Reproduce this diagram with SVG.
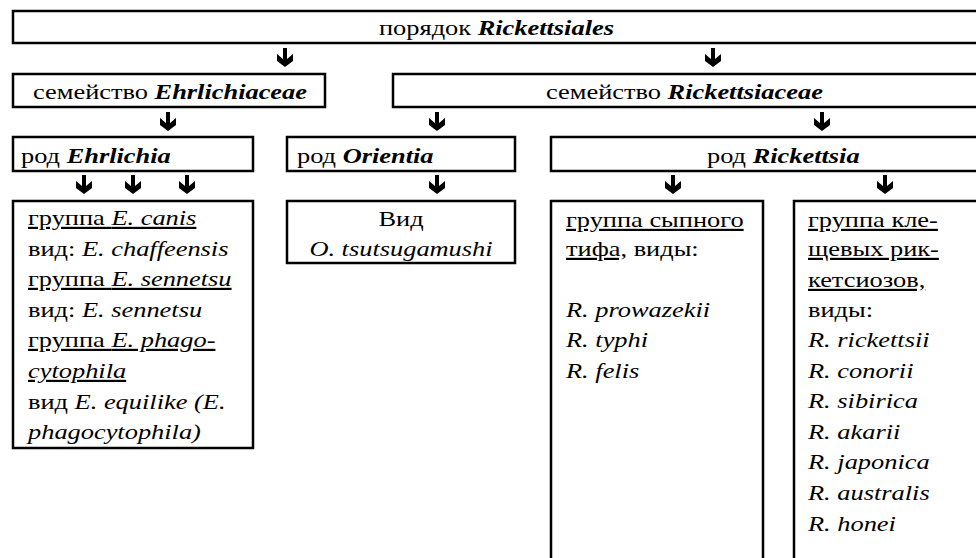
<svg xmlns="http://www.w3.org/2000/svg" xmlns:xlink="http://www.w3.org/1999/xlink" width="976" height="558" viewBox="0 0 976 558">
<defs>
<style>
.box{fill:#fff;stroke:#000;stroke-width:2.5}
.t text{font-size:22px;fill:#000}
.bi{font-weight:bold;font-style:italic}
.i{font-style:italic}
.u{text-decoration:underline}
</style>
<path id="arr" d="M-2,-19 H2 V-8 L8,-13 V-6 L0,0 L-8,-6 V-13 L-2,-8 Z" fill="#000"/>
</defs>
<rect width="976" height="558" fill="#fff"/>
<g class="t" font-family="Liberation Serif, Tinos, DejaVu Serif, serif">
<g id="order">
<rect class="box" x="13" y="11" width="980" height="32"/>
<text transform="translate(379,35) scale(1.2 1)">порядок <tspan class="bi">Rickettsiales</tspan></text>
</g>
<g id="fam-ehrlichiaceae">
<rect class="box" x="13" y="74" width="312" height="33"/>
<text transform="translate(33,99) scale(1.2 1)">семейство <tspan class="bi">Ehrlichiaceae</tspan></text>
</g>
<g id="fam-rickettsiaceae">
<rect class="box" x="393" y="74" width="600" height="33"/>
<text transform="translate(546,99) scale(1.2 1)">семейство <tspan class="bi">Rickettsiaceae</tspan></text>
</g>
<g id="gen-ehrlichia">
<rect class="box" x="13" y="137" width="240" height="34"/>
<text transform="translate(21,163) scale(1.2 1)">род <tspan class="bi">Ehrlichia</tspan></text>
</g>
<g id="gen-orientia">
<rect class="box" x="287" y="137" width="228" height="34"/>
<text transform="translate(297,163) scale(1.2 1)">род <tspan class="bi">Orientia</tspan></text>
</g>
<g id="gen-rickettsia">
<rect class="box" x="551" y="137" width="442" height="34"/>
<text transform="translate(707,163) scale(1.2 1)">род <tspan class="bi">Rickettsia</tspan></text>
</g>
<g id="sp-ehrlichia">
<rect class="box" x="13" y="201" width="240" height="247"/>
<text transform="translate(28,225) scale(1.2 1)" class="u">группа <tspan class="i">E. canis</tspan></text>
<text transform="translate(28,256) scale(1.2 1)">вид: <tspan class="i">E. chaffeensis</tspan></text>
<text transform="translate(28,286) scale(1.2 1)" class="u">группа <tspan class="i">E. sennetsu</tspan></text>
<text transform="translate(28,317) scale(1.2 1)">вид: <tspan class="i">E. sennetsu</tspan></text>
<text transform="translate(28,347) scale(1.2 1)" class="u">группа <tspan class="i">E. phago-</tspan></text>
<text transform="translate(28,378) scale(1.2 1)" class="u i">cytophila</text>
<text transform="translate(28,409) scale(1.2 1)">вид <tspan class="i">E. equilike (E.</tspan></text>
<text transform="translate(28,439) scale(1.2 1)" class="i">phagocytophila)</text>
</g>
<g id="sp-orientia">
<rect class="box" x="287" y="201" width="228" height="62"/>
<text transform="translate(401,226) scale(1.2 1)" text-anchor="middle">Вид</text>
<text transform="translate(401,256) scale(1.2 1)" text-anchor="middle" class="i">O. tsutsugamushi</text>
</g>
<g id="grp-typhus">
<rect class="box" x="551" y="201" width="212" height="380"/>
<text transform="translate(566,227) scale(1.2 1)" class="u">группа сыпного</text>
<text transform="translate(566,256) scale(1.2 1)"><tspan class="u">тифа,</tspan> виды:</text>
<text transform="translate(566,317) scale(1.2 1)" class="i">R. prowazekii</text>
<text transform="translate(566,347) scale(1.2 1)" class="i">R. typhi</text>
<text transform="translate(566,378) scale(1.2 1)" class="i">R. felis</text>
</g>
<g id="grp-spotted">
<rect class="box" x="794" y="201" width="200" height="380"/>
<text transform="translate(808,227) scale(1.2 1)" class="u">группа кле-</text>
<text transform="translate(808,256) scale(1.2 1)" class="u">щевых рик-</text>
<text transform="translate(808,287) scale(1.2 1)" class="u">кетсиозов,</text>
<text transform="translate(808,317) scale(1.2 1)">виды:</text>
<text transform="translate(808,347) scale(1.2 1)" class="i">R. rickettsii</text>
<text transform="translate(808,378) scale(1.2 1)" class="i">R. conorii</text>
<text transform="translate(808,408) scale(1.2 1)" class="i">R. sibirica</text>
<text transform="translate(808,439) scale(1.2 1)" class="i">R. akarii</text>
<text transform="translate(808,469) scale(1.2 1)" class="i">R. japonica</text>
<text transform="translate(808,500) scale(1.2 1)" class="i">R. australis</text>
<text transform="translate(808,531) scale(1.2 1)" class="i">R. honei</text>
</g>
</g>
<g id="connectors">
<use xlink:href="#arr" x="285" y="67"/>
<use xlink:href="#arr" x="713" y="67"/>
<use xlink:href="#arr" x="168" y="131"/>
<use xlink:href="#arr" x="437" y="131"/>
<use xlink:href="#arr" x="822" y="131"/>
<use xlink:href="#arr" x="84" y="194"/>
<use xlink:href="#arr" x="133" y="194"/>
<use xlink:href="#arr" x="187" y="194"/>
<use xlink:href="#arr" x="437" y="194"/>
<use xlink:href="#arr" x="673" y="194"/>
<use xlink:href="#arr" x="885" y="194"/>
</g>
</svg>
